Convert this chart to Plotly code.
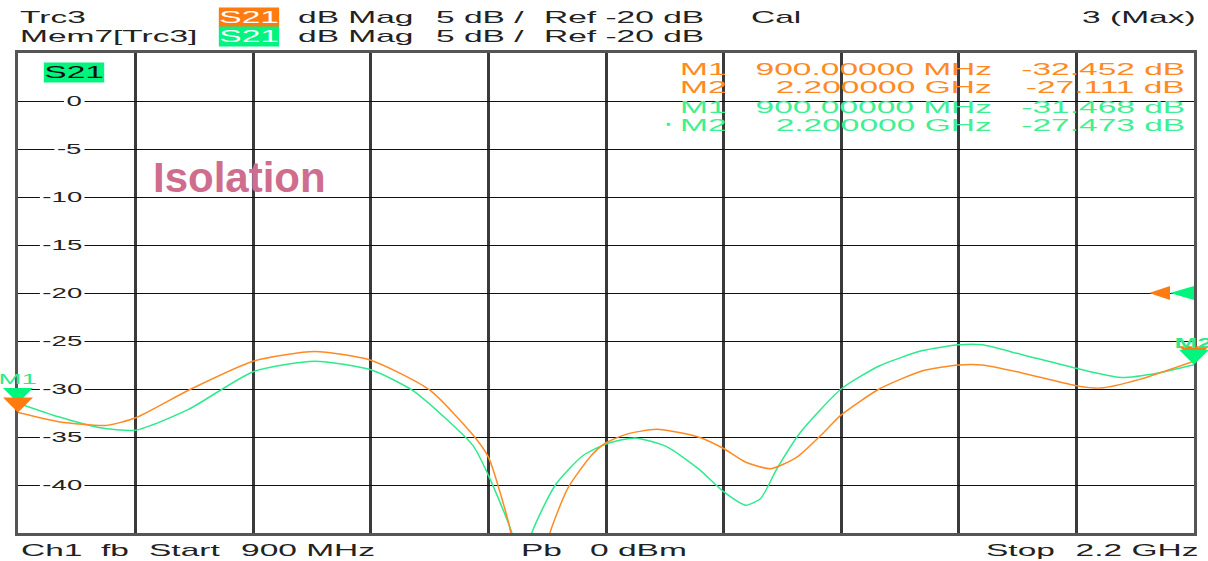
import plotly.graph_objects as go

# ---------------- data ----------------
FREQ_TRC = [900, 945, 997, 1030, 1089, 1160, 1228, 1290, 1355, 1403, 1420, 1442,
            1466, 1488, 1508, 1534, 1550, 1573, 1606, 1652, 1680, 1704, 1732, 1761,
            1791, 1810, 1852, 1900, 1940, 1966, 2009, 2072, 2097, 2140, 2200]
S21_TRC = [-32.452, -33.4, -33.8, -33.0, -30.1, -27.1, -26.1, -27.0, -30.1, -34.8, -37.1, -43.8,
           -54.0, -45.0, -40.3, -36.9, -35.6, -34.7, -34.2, -35.0, -36.2, -37.6, -38.3, -37.1,
           -34.5, -32.7, -30.0, -28.1, -27.5, -27.5, -28.3, -29.7, -29.9, -29.0, -27.111]

FREQ_MEM = [900, 945, 989, 1030, 1089, 1160, 1228, 1290, 1337, 1403, 1420, 1446,
            1457, 1468, 1494, 1525, 1551, 1582, 1617, 1652, 1680, 1704, 1721, 1739,
            1765, 1810, 1852, 1900, 1940, 1966, 2009, 2072, 2119, 2162, 2200]
S21_MEM = [-31.468, -32.9, -34.0, -34.3, -32.1, -28.2, -27.1, -28.0, -30.2, -35.9, -39.0, -45.0,
           -50.0, -45.0, -40.0, -36.9, -35.7, -35.1, -36.0, -38.3, -40.7, -42.1, -41.4, -38.3,
           -34.5, -30.0, -27.6, -26.0, -25.4, -25.4, -26.4, -27.9, -28.8, -28.3, -27.473]

Y_TICKS = [0, -5, -10, -15, -20, -25, -30, -35, -40]
MARKER_NAMES = ["M1", "M2"]
REF_LEVEL = -20
START_MHZ, STOP_MHZ = 900, 2200
Y_MIN, Y_MAX = -45, 5

# ---------------- style ----------------
ORANGE = "#ff8a24"
ORANGE_BOX = "#ff7b10"
GREEN = "#2eea8c"
GREEN_TXT = "#3ff092"
GREEN_BOX = "#00f57e"
TXT = "#222222"
FONT = "Liberation Sans"

FW, FH = 1208, 561
L, R, T, B = 18, 1197, 53, 533


def pxx(px):
    return (px - L) / (R - L)


def pxy(py):
    return (B - py) / (B - T)


def fx(f):
    return (f - START_MHZ) / (STOP_MHZ - START_MHZ)


def fy(v):
    return (v - Y_MIN) / (Y_MAX - Y_MIN)


annotations = []
ANCHOR_FIX = {"left": -3, "right": 6, "center": 0}


def txt(text, px, py, anchor="left", size=17, color=TXT, wide=True, **kw):
    a = dict(text=text, x=pxx(px + ANCHOR_FIX[anchor]), y=pxy(py), xref="paper",
             yref="paper", xanchor=anchor, yanchor="middle", showarrow=False,
             font=dict(family=FONT, size=size, color=color))
    if wide:
        a["name"] = "wide"
    a.update(kw)
    annotations.append(a)


fig = go.Figure()
fig.add_trace(go.Scatter(x=FREQ_MEM, y=S21_MEM, mode="lines", name="Mem7[Trc3]",
                         line=dict(color=GREEN, width=1.5, shape="spline", smoothing=0.6),
                         hoverinfo="skip"))
fig.add_trace(go.Scatter(x=FREQ_TRC, y=S21_TRC, mode="lines", name="Trc3",
                         line=dict(color=ORANGE, width=1.5, shape="spline", smoothing=0.6),
                         hoverinfo="skip"))

# ---------------- header ----------------
for row, (label, boxc) in enumerate([("Trc3", ORANGE_BOX), ("Mem7[Trc3]", GREEN_BOX)]):
    py = 18 + row * 19
    txt(label, 21, py)
    txt("S21", 250, py - 0.5, anchor="center", color="#ffffff", bgcolor=boxc,
        borderpad=0)
    txt("dB Mag", 300, py)
    txt("5 dB /", 438, py)
    txt(f"Ref {REF_LEVEL} dB", 546, py)
txt("Cal", 754, 18)
txt("3 (Max)", 1195, 18, anchor="right")

# ---------------- marker table ----------------
def fmt_freq(f):
    return f"{f:.5f} MHz" if f < 1000 else f"{f/1000:.6f} GHz"


rows = [
    (ORANGE, "M1", FREQ_TRC[0], S21_TRC[0]),
    (ORANGE, "M2", FREQ_TRC[-1], S21_TRC[-1]),
    (GREEN_TXT, "M1", FREQ_MEM[0], S21_MEM[0]),
    (GREEN_TXT, "M2", FREQ_MEM[-1], S21_MEM[-1]),
]
for i, (c, m, f, v) in enumerate(rows):
    py = [69, 88, 107, 125][i]
    txt(m, 725, py, anchor="right", color=c)
    txt(fmt_freq(f), 990, py, anchor="right", color=c)
    txt(f"{v:.3f} dB", 1184, py, anchor="right", color=c)
txt("•", 670, 124, anchor="center", color=GREEN_TXT, size=13, wide=False)

# ---------------- in-plot labels ----------------
txt("S21", 74.5, 73, anchor="center", color="#111111", bgcolor=GREEN_BOX, borderpad=0)
annotations.append(dict(text="<b>Isolation</b>", x=pxx(240), y=pxy(177), xref="paper",
                        yref="paper", xanchor="center", yanchor="middle", showarrow=False,
                        font=dict(family=FONT, size=42, color="#cf6d8e")))

# y tick labels (with white gap in the grid line)
for v in Y_TICKS:
    annotations.append(dict(text=f"{v}", x=pxx(85), y=v, xref="paper", yref="y",
                            xanchor="right", yanchor="middle", showarrow=False,
                            bgcolor="#ffffff", borderpad=2, name="wide",
                            font=dict(family=FONT, size=14, color=TXT)))

# marker labels near the traces (active trace label is drawn on top)
annotations.append(dict(text=MARKER_NAMES[0], x=FREQ_MEM[0], y=S21_MEM[0], xref="x", yref="y",
                        xanchor="center", yanchor="bottom", yshift=14, showarrow=False,
                        name="wide", font=dict(family=FONT, size=14, color=GREEN)))
annotations.append(dict(text="<b>" + MARKER_NAMES[1] + "</b>", x=FREQ_MEM[-1], y=S21_MEM[-1],
                        xref="x", yref="y", xanchor="center", yanchor="bottom", yshift=12,
                        showarrow=False, name="wide",
                        font=dict(family=FONT, size=14, color=GREEN)))

# ---------------- footer ----------------
txt("Ch1", 22, 550)
txt("fb", 102, 550)
txt("Start", 150, 550)
txt(f"{START_MHZ} MHz", 372, 550, anchor="right")
txt("Pb", 523, 550)
txt("0 dBm", 592, 550)
txt("Stop", 989, 550)
txt(f"{STOP_MHZ/1000:g} GHz", 1197, 550, anchor="right")

# ---------------- marker triangles / reference arrows ----------------
shapes = []
DOWN = "M-15,15 L15,15 L0,0 Z"
for f, v, c in [(FREQ_MEM[0], S21_MEM[0], GREEN_BOX), (FREQ_TRC[0], S21_TRC[0], ORANGE_BOX),
                (FREQ_TRC[-1], S21_TRC[-1], ORANGE_BOX), (FREQ_MEM[-1], S21_MEM[-1], GREEN_BOX)]:
    shapes.append(dict(type="path", xref="paper", yref="paper", xsizemode="pixel",
                       ysizemode="pixel", xanchor=fx(f), yanchor=fy(v), path=DOWN,
                       fillcolor=c, line=dict(width=0), layer="above"))
shapes.append(dict(type="path", xref="paper", yref="paper", xsizemode="pixel",
                   ysizemode="pixel", xanchor=1, yanchor=fy(REF_LEVEL),
                   path="M-24,7 L-24,-7 L-45,0 Z", fillcolor=ORANGE_BOX, line=dict(width=0)))
shapes.append(dict(type="path", xref="paper", yref="paper", xsizemode="pixel",
                   ysizemode="pixel", xanchor=1, yanchor=fy(REF_LEVEL),
                   path="M0,7 L0,-7 L-24,0 Z", fillcolor=GREEN_BOX, line=dict(width=0)))

fig.update_layout(
    width=FW, height=FH, margin=dict(l=L, r=FW - R, t=T, b=FH - B),
    paper_bgcolor="white", plot_bgcolor="white", showlegend=False,
    annotations=annotations, shapes=shapes,
    xaxis=dict(range=[START_MHZ, STOP_MHZ], tick0=START_MHZ, dtick=(STOP_MHZ - START_MHZ) / 10,
               showgrid=True, gridcolor="#3a3a3a", gridwidth=2.5, zeroline=False,
               showticklabels=False, ticks="", showline=True, mirror=True,
               linecolor="#555555", linewidth=2.5),
    yaxis=dict(range=[Y_MIN, Y_MAX], tick0=Y_MIN, dtick=5, showgrid=True,
               gridcolor="#111111", gridwidth=1.3, zeroline=False, showticklabels=False,
               ticks="", showline=True, mirror=True, linecolor="#555555", linewidth=2.5),
)

POST = """
(function(){
  document.body.style.margin = '0';
  document.body.style.padding = '0';
  var gd = document.getElementById('{plot_id}');
  var K = 1.97;
  function stretch(){
    var anns = (gd.layout && gd.layout.annotations) || [];
    var gs = gd.querySelectorAll('g.annotation');
    gs.forEach(function(g){
      var i = +g.getAttribute('data-index');
      var a = anns[i];
      if(!a || a.name !== 'wide') return;
      var t = g.querySelector('text.annotation-text');
      if(!t || t.getAttribute('data-wide')) return;
      var w = t.getComputedTextLength();
      if(!w) return;
      var W = w * K, d = W - w;
      t.setAttribute('textLength', W);
      t.setAttribute('lengthAdjust', 'spacingAndGlyphs');
      t.setAttribute('data-wide', '1');
      var dx = 0, rdx = -d / 2;
      if(a.xanchor === 'left'){ dx = d / 2; rdx = 0; }
      else if(a.xanchor === 'right'){ dx = -d / 2; rdx = -d; }
      if(dx) t.setAttribute('transform', 'translate(' + dx + ',0)');
      var r = g.querySelector('rect.bg');
      if(r){
        var rx = parseFloat(r.getAttribute('x') || 0);
        var rw = parseFloat(r.getAttribute('width') || 0);
        r.setAttribute('x', rx + rdx);
        r.setAttribute('width', rw + d);
      }
    });
  }
  stretch();
  gd.on('plotly_afterplot', stretch);
})();
"""

fig.write_html("out.html", post_script=POST, config={"displayModeBar": False})
